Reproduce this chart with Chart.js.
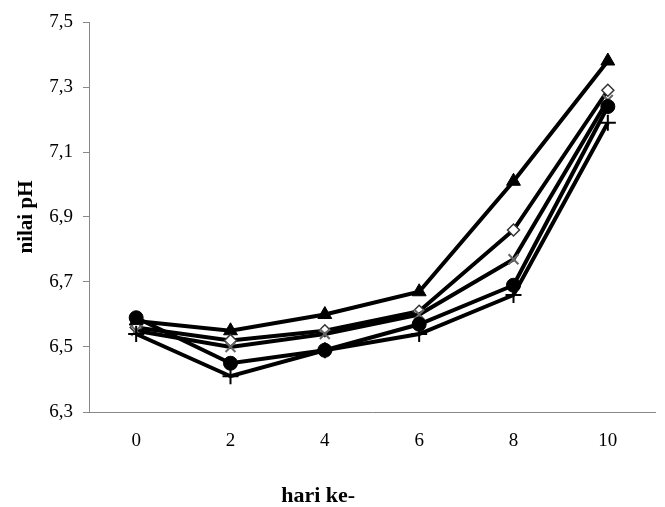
<!DOCTYPE html>
<html>
<head>
<meta charset="utf-8">
<script src="https://cdn.jsdelivr.net/npm/chart.js@4"></script>
<style>
html,body{margin:0;padding:0;background:#fff;}
#wrap{width:665px;height:507px;}
</style>
</head>
<body>
<div id="wrap"><canvas id="c" width="665" height="507"></canvas></div>
<script>
const categories = ['0','2','4','6','8','10'];
const seriesTriangle = [6.58, 6.55, 6.60, 6.67, 7.01, 7.38];
const seriesDiamond  = [6.56, 6.52, 6.55, 6.61, 6.86, 7.29];
const seriesCross    = [6.55, 6.50, 6.54, 6.60, 6.77, 7.26];
const seriesCircle   = [6.59, 6.45, 6.49, 6.57, 6.69, 7.24];
const seriesPlus     = [6.54, 6.41, 6.49, 6.54, 6.66, 7.19];
const yTickValues = [6.3, 6.5, 6.7, 6.9, 7.1, 7.3, 7.5];
const yTickLabels = ['6,3','6,5','6,7','6,9','7,1','7,3','7,5'];
const yTitle = 'nilai pH';
const xTitle = 'hari ke-';

function ds(data, style, radius, bg, border, bw){
  return {data, borderColor:'#000', borderWidth:4, pointStyle:style, pointRadius:radius,
    pointHoverRadius:radius, pointBackgroundColor:bg, pointBorderColor:border, pointBorderWidth:bw, tension:0, fill:false};
}

const xTitlePlugin = {
  id:'xTitlePlugin',
  afterDraw(chart){
    const ctx = chart.ctx, a = chart.chartArea;
    ctx.save();
    ctx.font = 'bold 22px "Liberation Serif"';
    ctx.fillStyle = '#000';
    ctx.textAlign = 'center';
    ctx.textBaseline = 'alphabetic';
    ctx.fillText(xTitle, a.left + (a.right - a.left) * 0.405, 502);
    ctx.restore();
  }
};

new Chart(document.getElementById('c'), {
  type:'line',
  data:{
    labels:categories,
    datasets:[
      ds(seriesPlus,'cross',8,'#000','#000',2),
      ds(seriesCircle,'circle',7,'#000','#000',1),
      ds(seriesCross,'crossRot',7,'#666','#666',2),
      ds(seriesDiamond,'rectRot',6,'#fff','#333',1.5),
      ds(seriesTriangle,'triangle',8,'#000','#000',1)
    ]
  },
  options:{
    responsive:false,
    animation:false,
    devicePixelRatio:1,
    layout:{padding:{left:0,right:10,top:22,bottom:0}},
    plugins:{legend:{display:false},tooltip:{enabled:false}},
    scales:{
      x:{
        offset:true,
        afterFit(scale){ scale.height = 95; },
        grid:{display:false, drawTicks:false},
        border:{display:true,color:'#888',width:1},
        ticks:{color:'#000',font:{family:'Liberation Serif',size:19},padding:18}
      },
      y:{
        min:6.3,max:7.5,
        afterFit(scale){ scale.width = 89; },
        afterBuildTicks(scale){ scale.ticks = yTickValues.map(v=>({value:v})); },
        grid:{display:true,drawOnChartArea:false,drawTicks:true,tickLength:6,color:'#888'},
        border:{display:true,color:'#888',width:1},
        ticks:{color:'#000',font:{family:'Liberation Serif',size:19},padding:10,
          callback:(v,i)=>yTickLabels[i]},
        title:{display:true,text:yTitle,color:'#000',font:{family:'Liberation Serif',size:21,weight:'bold'},padding:{top:14,bottom:0}}
      }
    }
  },
  plugins:[xTitlePlugin]
});
</script>
</body>
</html>
